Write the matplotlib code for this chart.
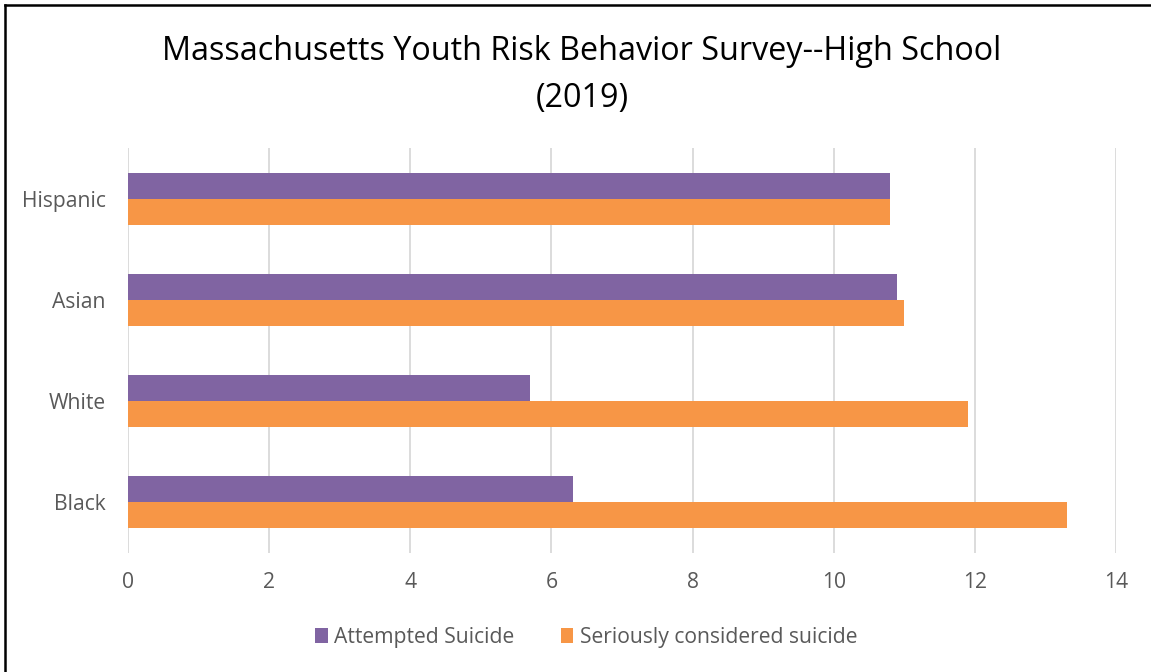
import matplotlib
matplotlib.use("Agg")
import matplotlib.pyplot as plt
from matplotlib.lines import Line2D
import numpy as np

categories = ["Black", "White", "Asian", "Hispanic"]
attempted = [6.3, 5.7, 10.9, 10.8]
considered = [13.3, 11.9, 11.0, 10.8]
series_names = ["Attempted Suicide", "Seriously considered suicide"]
xticks = [0, 2, 4, 6, 8, 10, 12, 14]

plt.rcParams['font.family'] = ['Open Sans', 'DejaVu Sans']

W, H = 1151, 672
fig = plt.figure(figsize=(W/100, H/100), dpi=100)
ax = fig.add_axes([128/W, 1-553/H, (1116-128)/W, (553-148)/H])

y = np.arange(len(categories))
h = 0.257
purple = "#8064A2"
orange = "#F79646"
ax.barh(y + h/2, attempted, height=h, color=purple, label=series_names[0], zorder=3)
ax.barh(y - h/2, considered, height=h, color=orange, label=series_names[1], zorder=3)

fs = 15.2
ax.set_xlim(0, 14)
ax.set_ylim(-0.5, 3.5)
ax.set_xticks(xticks)
ax.set_xticklabels([str(t) for t in xticks], fontsize=fs, color="#595959")
ax.set_yticks(y)
ax.set_yticklabels(categories, fontsize=fs, color="#595959")
ax.tick_params(axis='x', length=0, pad=14)
ax.tick_params(axis='y', length=0, pad=16)
ax.grid(axis='x', color="#D9D9D9", linewidth=1.3, zorder=0)
for s in ax.spines.values():
    s.set_visible(False)

fig.text(582/W, 1-51/H, "Massachusetts Youth Risk Behavior Survey--High School", ha='center', va='center', fontsize=23.3, color="black")
fig.text(582/W, 1-98/H, "(2019)", ha='center', va='center', fontsize=23.3, color="black")

leg = fig.legend(loc='center', bbox_to_anchor=(586/W, 1-637/H), ncol=2, frameon=False,
                 fontsize=fs, handlelength=0.6, handleheight=0.7, handletextpad=0.3, columnspacing=2.2)
for t in leg.get_texts():
    t.set_color("#595959")

fig.add_artist(Line2D([5/W, 5/W], [0, 1-5/H], transform=fig.transFigure, color="black", linewidth=1.8))
fig.add_artist(Line2D([5/W, 1], [1-5/H, 1-5/H], transform=fig.transFigure, color="black", linewidth=1.8))

fig.savefig("out.png", dpi=100)
